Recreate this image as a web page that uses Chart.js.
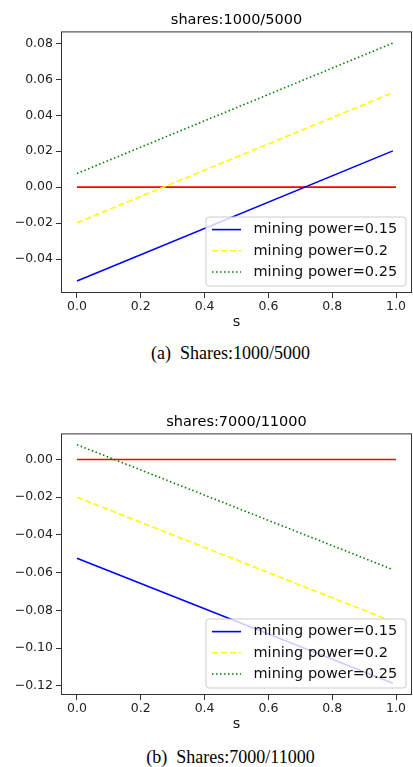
<!DOCTYPE html>
<html>
<head>
<meta charset="utf-8">
<script src="https://cdn.jsdelivr.net/npm/chart.js@4"></script>
<style>
  body { margin: 0; background: #fff; width: 413px; height: 767px; position: relative; overflow: hidden; }
  canvas { position: absolute; left: 0; }
  .caption { position: absolute; left: 0; width: 461px; text-align: center;
             font-family: "Liberation Serif", serif; font-size: 18px; line-height: 20px; color: #000; }
</style>
</head>
<body>
<canvas id="chartA" width="413" height="335" style="top:0px"></canvas>
<div class="caption" style="top:343px">(a)&nbsp;&nbsp;Shares:1000/5000</div>
<canvas id="chartB" width="413" height="335" style="top:402px"></canvas>
<div class="caption" style="top:747px">(b)&nbsp;&nbsp;Shares:7000/11000</div>
<script>
// x positions of the line ends
const sPoints = [0.0, 0.99];
const zeroPoints = [0.0, 1.0];
const zeroLine = [0, 0];
const seriesLabels = ['mining power=0.15', 'mining power=0.2', 'mining power=0.25'];

// (a) shares 1000/5000
const powerA15 = [-0.0522, 0.0202];
const powerA20 = [-0.0198, 0.0526];
const powerA25 = [0.0076, 0.0802];

// (b) shares 7000/11000
const powerB15 = [-0.0524, -0.1187];
const powerB20 = [-0.0200, -0.0860];
const powerB25 = [0.0078, -0.0584];

// tick labels
const xTicks = [0.0, 0.2, 0.4, 0.6, 0.8, 1.0];
const yTicksA = [-0.04, -0.02, 0.00, 0.02, 0.04, 0.06, 0.08];
const yTicksB = [-0.12, -0.10, -0.08, -0.06, -0.04, -0.02, 0.00];

const FONT = '"DejaVu Sans", sans-serif';

function pts(xs, ys) {
  return xs.map((x, i) => ({x: x, y: ys[i]}));
}

// frame + matplotlib style legend inside the plot
const boxLegend = {
  id: 'boxLegend',
  afterDatasetsDraw(chart) {
    const {ctx, chartArea: a} = chart;
    ctx.save();
    ctx.strokeStyle = '#333';
    ctx.lineWidth = 1;
    ctx.setLineDash([]);
    ctx.strokeRect(a.left + 0.5, a.top + 0.5, a.width - 1, a.height - 1);

    const w = 200, h = 69, r = 3;
    const x0 = a.right - 6 - w, y0 = a.bottom - 7 - h;
    ctx.beginPath();
    ctx.moveTo(x0 + r, y0);
    ctx.arcTo(x0 + w, y0, x0 + w, y0 + h, r);
    ctx.arcTo(x0 + w, y0 + h, x0, y0 + h, r);
    ctx.arcTo(x0, y0 + h, x0, y0, r);
    ctx.arcTo(x0, y0, x0 + w, y0, r);
    ctx.closePath();
    ctx.fillStyle = 'rgba(255,255,255,0.8)';
    ctx.fill();
    ctx.strokeStyle = '#cccccc';
    ctx.stroke();

    const items = chart.data.datasets.filter(d => d.label);
    ctx.font = '14.5px ' + FONT;
    ctx.textBaseline = 'middle';
    ctx.fillStyle = '#111';
    items.forEach((d, i) => {
      const cy = y0 + 12.6 + i * 21.2;
      ctx.beginPath();
      ctx.strokeStyle = d.borderColor;
      ctx.lineWidth = d.borderWidth;
      ctx.setLineDash(d.borderDash || []);
      ctx.moveTo(x0 + 6, cy);
      ctx.lineTo(x0 + 35, cy);
      ctx.stroke();
      ctx.fillText(d.label, x0 + 47.5, cy);
    });
    ctx.restore();
  }
};

function makeChart(id, title, s15, s20, s25, yTicks, yMin, yMax) {
  const ctx = document.getElementById(id).getContext('2d');
  return new Chart(ctx, {
    type: 'line',
    data: {
      datasets: [
        {label: seriesLabels[0], data: pts(sPoints, s15), borderColor: '#0000ff', borderWidth: 1.6},
        {label: seriesLabels[1], data: pts(sPoints, s20), borderColor: '#ffff00', borderWidth: 1.6, borderDash: [6, 3]},
        {label: seriesLabels[2], data: pts(sPoints, s25), borderColor: '#008000', borderWidth: 1.6, borderDash: [1.5, 2.5]},
        {data: pts(zeroPoints, zeroLine), borderColor: '#ff0000', borderWidth: 1.6}
      ]
    },
    options: {
      responsive: false,
      animation: false,
      events: [],
      layout: {padding: {right: 1}},
      elements: {point: {radius: 0}, line: {tension: 0}},
      plugins: {
        legend: {display: false},
        tooltip: {enabled: false},
        title: {
          display: true,
          fullSize: false,
          text: title,
          color: '#000',
          font: {family: FONT, size: 14.5, weight: 'normal'},
          padding: {top: 12, bottom: 2}
        }
      },
      scales: {
        x: {
          type: 'linear',
          min: -0.05,
          max: 1.05,
          afterBuildTicks: scale => { scale.ticks = xTicks.map(v => ({value: v})); },
          afterFit: scale => { scale.height = 42; },
          border: {display: false},
          grid: {drawOnChartArea: false, drawTicks: true, tickLength: 5, color: '#333'},
          ticks: {
            color: '#222',
            padding: 1,
            font: {family: FONT, size: 12.5},
            callback: v => v.toFixed(1)
          },
          title: {
            display: true,
            text: 's',
            color: '#111',
            font: {family: FONT, size: 14.5},
            padding: {top: 0, bottom: 4}
          }
        },
        y: {
          type: 'linear',
          min: yMin,
          max: yMax,
          afterBuildTicks: scale => { scale.ticks = yTicks.map(v => ({value: v})); },
          afterFit: scale => { scale.width = 61; },
          border: {display: false},
          grid: {drawOnChartArea: false, drawTicks: true, tickLength: 5, color: '#333'},
          ticks: {
            color: '#222',
            padding: 3,
            font: {family: FONT, size: 12.5},
            callback: v => v.toFixed(2).replace('-', '\u2212')
          }
        }
      }
    },
    plugins: [boxLegend]
  });
}

makeChart('chartA', 'shares:1000/5000', powerA15, powerA20, powerA25, yTicksA, -0.0589, 0.0867);
makeChart('chartB', 'shares:7000/11000', powerB15, powerB20, powerB25, yTicksB, -0.1249, 0.0138);
</script>
</body>
</html>
